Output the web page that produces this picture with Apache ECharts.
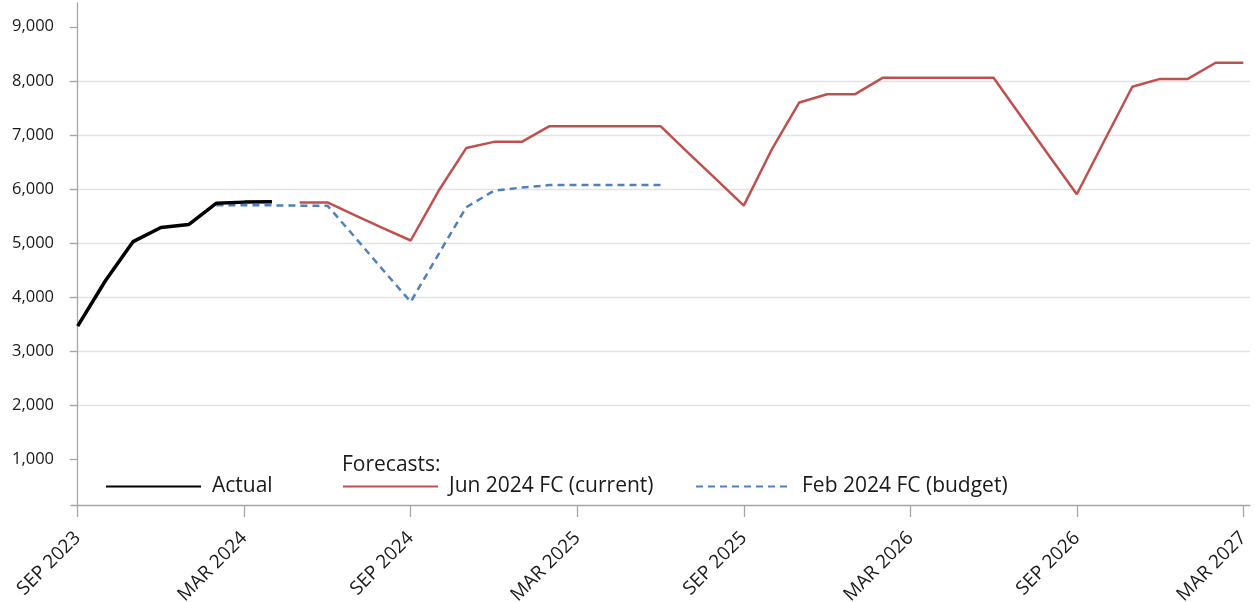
<!DOCTYPE html>
<html>
<head>
<meta charset="utf-8">
<script src="https://cdn.jsdelivr.net/npm/echarts@6/dist/echarts.min.js"></script>
<style>
  html, body { margin: 0; padding: 0; background: #fff; }
  #chart { width: 1255px; height: 602px; }
</style>
</head>
<body>
<div id="chart"></div>
<script>
// months SEP 2023 .. MAR 2027
var months = [
  'SEP 2023', 'OCT 2023', 'NOV 2023', 'DEC 2023', 'JAN 2024', 'FEB 2024', 'MAR 2024', 'APR 2024',
  'MAY 2024', 'JUN 2024', 'JUL 2024', 'AUG 2024', 'SEP 2024', 'OCT 2024', 'NOV 2024', 'DEC 2024',
  'JAN 2025', 'FEB 2025', 'MAR 2025', 'APR 2025', 'MAY 2025', 'JUN 2025', 'JUL 2025', 'AUG 2025',
  'SEP 2025', 'OCT 2025', 'NOV 2025', 'DEC 2025', 'JAN 2026', 'FEB 2026', 'MAR 2026', 'APR 2026',
  'MAY 2026', 'JUN 2026', 'JUL 2026', 'AUG 2026', 'SEP 2026', 'OCT 2026', 'NOV 2026', 'DEC 2026',
  'JAN 2027', 'FEB 2027', 'MAR 2027'
];
var actual = [3460, 4300, 5025, 5285, 5340, 5735, 5755, 5760];
var junFcStart = 8;
var junFc = [5750, 5750, 5510, 5275, 5045, 5960, 6755, 6870, 6870, 7160, 7160, 7160, 7160, 7160,
  6665, 6180, 5690, 6720, 7600, 7750, 7750, 8055, 8055, 8055, 8055, 8055, 7335, 6615, 5900,
  6900, 7890, 8035, 8035, 8335, 8335];
var febFcStart = 5;
var febFc = [5695, 5695, 5695, 5690, 5690, 5100, 4500, 3910, 4790, 5660, 5965, 6025, 6070, 6070,
  6070, 6070, 6070];
var xTicks = [0, 6, 12, 18, 24, 30, 36, 42];
var yTicks = [1000, 2000, 3000, 4000, 5000, 6000, 7000, 8000, 9000];

function pairs(start, vals) {
  return vals.map(function (v, i) { return [start + i, v]; });
}

var font = 'Open Sans';
var txt = '#1a1a1a';
var axisGray = '#a6a6a6';
var chart = echarts.init(document.getElementById('chart'));

function legendAt(name, left) {
  return {
    data: [name], left: left, top: 476, padding: 0,
    itemWidth: 95, itemHeight: 14,
    itemStyle: { opacity: 0 },
    textStyle: { fontSize: 21, color: txt, fontFamily: font, padding: [0, 0, 0, 6] }
  };
}

var option = {
  animation: false,
  textStyle: { fontFamily: font },
  grid: { left: 71, right: 5, top: 3, bottom: 97, containLabel: false, outerBoundsMode: 'none' },
  xAxis: {
    type: 'value',
    min: -0.24,
    max: 42.24,
    axisLine: { lineStyle: { color: axisGray, width: 1.3 } },
    axisTick: { customValues: xTicks, length: 12, lineStyle: { color: axisGray, width: 1.3 } },
    axisLabel: {
      customValues: xTicks,
      rotate: 45,
      margin: 30,
      fontSize: 19,
      color: txt,
      fontFamily: font,
      formatter: function (v) { return months[Math.round(v)] || ''; }
    },
    splitLine: { show: false }
  },
  yAxis: {
    type: 'value',
    min: 150,
    max: 9440,
    axisLine: { show: true, lineStyle: { color: axisGray, width: 1.3 } },
    axisTick: { show: true, customValues: yTicks, length: 8, lineStyle: { color: axisGray, width: 1.3 } },
    axisLabel: {
      customValues: yTicks,
      margin: 17,
      fontSize: 16.5,
      color: txt,
      fontFamily: font,
      formatter: function (v) { return echarts.format.addCommas(v); }
    },
    splitNumber: 9,
    minInterval: 1000,
    maxInterval: 1000,
    splitLine: { showMinLine: false, showMaxLine: false, lineStyle: { color: '#e3e3e3', width: 1.3 } }
  },
  legend: [
    legendAt('Actual', 105),
    legendAt('Jun 2024 FC (current)', 342),
    legendAt('Feb 2024 FC (budget)', 695)
  ],
  graphic: [{
    type: 'text', left: 342, top: 455,
    style: { text: 'Forecasts:', fontSize: 21, fill: txt, fontFamily: font }
  }],
  series: [
    {
      name: 'Feb 2024 FC (budget)', type: 'line', symbol: 'none',
      data: pairs(febFcStart, febFc),
      lineStyle: { color: '#4f81bd', width: 2.5, type: [7, 5] },
      itemStyle: { color: '#4f81bd' }, z: 2
    },
    {
      name: 'Jun 2024 FC (current)', type: 'line', symbol: 'none',
      data: pairs(junFcStart, junFc),
      lineStyle: { color: '#c0504d', width: 2.5 },
      itemStyle: { color: '#c0504d' }, z: 3
    },
    {
      name: 'Actual', type: 'line', symbol: 'none',
      data: pairs(0, actual),
      lineStyle: { color: '#000', width: 3.5 },
      itemStyle: { color: '#000' }, z: 4
    }
  ]
};

chart.setOption(option);
</script>
</body>
</html>
